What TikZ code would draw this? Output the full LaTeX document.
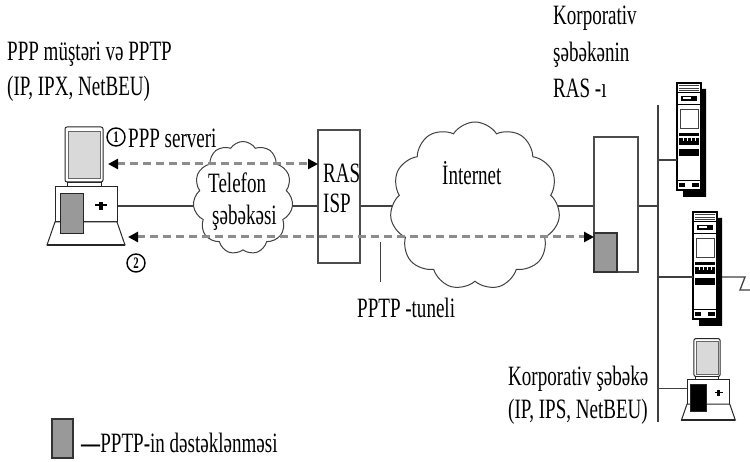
\documentclass[tikz,border=0pt]{standalone}
\usepackage{fontspec}
\setmainfont[FakeStretch=0.68]{Liberation Serif}
\usetikzlibrary{shapes.symbols,arrows.meta,backgrounds}

\tikzset{
  % rack server with a drop shadow; origin = top-left corner of the cabinet
  pics/server/.style={code={
    \fill[black] (24,6) -- (29,6) -- (29,114) -- (6,114) -- (6,107) -- (24,107) -- cycle;
    \node[draw=black, line width=1.1pt, fill=white, minimum width=24pt,
          minimum height=107pt, inner sep=0pt, outer sep=0pt, anchor=north west] (-body) at (0,0) {};
    \foreach \g in {2.5,5,7.5} \draw[black!75, line width=0.6pt] (2,\g) -- (22,\g);
    \draw[line width=1pt] (0,10) -- (24,10);
    \fill (4,13) rectangle (20,18);
    \fill[white] (6,14.5) rectangle (14,16);
    \draw[line width=1pt] (0,22) -- (24,22);
    \draw[black!75, line width=0.7pt] (3,26) rectangle (21,45);
    \fill (2,50) rectangle (22,53);
    \fill (2,55) rectangle (22,62);
    \foreach \s in {6,10,14,18} \draw[white, line width=0.6pt] (\s,55) -- (\s,58);
    \fill (2,66) rectangle (22,73);
    \draw[line width=1pt] (0,98) -- (24,98);
    \fill (2,100) rectangle (8,104);
    \fill (15,100) rectangle (22,104);
  }},
  % desktop workstation; origin = top-left corner of the system unit
  pics/workstation/.style={code={
    \draw[black!85, line width=1pt, fill=white, rounded corners=2pt] (10,-60) rectangle (48,-5);
    \draw[black!60, line width=0.5pt, fill=black!15] (13,-56) rectangle (45,-9);
    \draw[black!85, line width=0.8pt, fill=white] (12,-5) rectangle (46,0);
    \draw[black!85, line width=1pt, fill=white] (0,0) rectangle (62,35);
    \draw[black!85, line width=1pt, fill=white] (0,35) -- (62,35) -- (70,58) -- (-8,58) -- cycle;
    \draw[black!85, line width=1.8pt] (-8,58) -- (70,58);
    \draw[black!85, line width=0.8pt, fill=#1] (5,6) rectangle (28,46);
    \draw[line width=1.6pt] (40,18) -- (52,18);
    \fill (44,15) rectangle (48,23);
    \coordinate (-e) at (62,19);
    \coordinate (-w) at (0,12);
    \coordinate (-mon) at (53,-23);
    \coordinate (-kb) at (73,50);
  }},
}

\begin{document}
\begin{tikzpicture}[x=1pt,y=-1pt,
  wire/.style={draw=black!75, line width=1.3pt},
  pointer/.style={draw=black!75, line width=1pt},
  tunnel/.style={draw=black!45, line width=3pt, dash pattern=on 8pt off 5pt,
    {Triangle[length=10pt,width=10pt,color=black]}-{Triangle[length=10pt,width=10pt,color=black]}},
  box/.style={draw=black!70, line width=1.3pt, fill=white, inner sep=0pt, outer sep=0pt},
  support/.style={draw=black!80, line width=1.2pt, fill=black!40, inner sep=0pt, outer sep=0pt},
  netcloud/.style={cloud, draw=black!75, line width=1pt, fill=white, cloud puffs=11,
    cloud puff arc=115, cloud ignores aspect, inner sep=0pt},
  lbl/.style={font=\fontsize{28}{33}\selectfont, inner sep=0pt, anchor=base west},
  num/.style={circle, draw=black, line width=1.4pt, inner sep=0pt, minimum size=18pt,
    font=\fontsize{16}{16}\selectfont\bfseries},
]
\useasboundingbox (0,0) rectangle (750,462);

% ---- client side ----
\pic (pcL) at (55,187) {workstation=black!40};
\node[lbl] (client1) at (7,61) {PPP müştəri və PPTP};
\node[lbl] (client2) at (7,96) {(IP, IPX, NetBEU)};
\node[num] (n1) at (116,137) {1};
\node[lbl] (srvlbl) at (128,148) {PPP serveri};
\node[num] (n2) at (136,263) {2};

% ---- telephone network and provider ----
\node[netcloud, minimum width=100pt, minimum height=113pt] (tel) at (243,198) {};
\node[lbl] (tel1) at (208,193) {Telefon};
\node[lbl] (tel2) at (212,225) {şəbəkəsi};
\node[box, minimum width=42pt, minimum height=133pt] (rasisp) at (339,196.5) {};
\node[lbl] (ras1) at (323,183) {RAS};
\node[lbl] (ras2) at (323,213) {ISP};

% ---- Internet ----
\node[netcloud, minimum width=170pt, minimum height=168pt] (inet) at (475,206) {};
\node[lbl] (inetlbl) at (442,185) {İnternet};

% ---- corporate side ----
\node[box, minimum width=44pt, minimum height=135pt] (rascorp) at (616,204.5) {};
\node[support, minimum width=23pt, minimum height=39pt, anchor=south west] (pptp) at (rascorp.south west) {};
\node[lbl] (corp1) at (553,25) {Korporativ};
\node[lbl] (corp2) at (553,62) {şəbəkənin};
\node[lbl] (corp3) at (553,98) {RAS -ı};
\coordinate (busT) at (658,105);
\coordinate (busB) at (658,422);
\pic (srvA) at (677,83) {server};
\pic (srvB) at (693,212) {server};
\pic[scale=0.69] (wsR) at (687,380) {workstation=black};
\node[lbl] (lan1) at (508,385) {Korporativ şəbəkə};
\node[lbl] (lan2) at (508,418) {(IP, IPS, NetBEU)};

% ---- tunnel label ----
\node[lbl] (tunlbl) at (357,318) {PPTP -tuneli};
\coordinate (tunpt) at (380,242);
\coordinate (tunend) at (380,282);

% ---- legend ----
\node[support, minimum width=21pt, minimum height=39pt] (legbox) at (62.5,438.5) {};
\node[lbl] (legtxt) at (81,452) {\textbf{—}PPTP-in dəstəklənməsi};

% ---- physical links ----
\begin{scope}[on background layer]
  \draw[wire] (pcL-e) -- (pcL-e -| rasisp.west);
  \draw[wire] (rasisp.east |- pcL-e) -- (pcL-e -| rascorp.west);
  \draw[wire] (rascorp.east |- pcL-e) -- (pcL-e -| busT);
\end{scope}
\draw[wire] (busT) -- (busB);
\draw[wire] ([yshift=-23.5pt]srvA-body.west) -- ([yshift=-23.5pt]srvA-body.west -| busT);
\draw[wire] ([yshift=-11.5pt]srvB-body.west) -- ([yshift=-11.5pt]srvB-body.west -| busT);
\draw[wire] (wsR-w) -- (wsR-w -| busT);
\draw[wire] ([xshift=5pt,yshift=-11.5pt]srvB-body.east) -- ++(23,0) -- ++(-5,13) -- ++(10,0);
\draw[pointer] (tunpt) -- (tunend);

% ---- logical connections ----
\draw[tunnel] (pcL-mon) -- (pcL-mon -| rasisp.west);
\draw[tunnel] (pcL-kb) -- (pcL-kb -| pptp.west);
\end{tikzpicture}
\end{document}
